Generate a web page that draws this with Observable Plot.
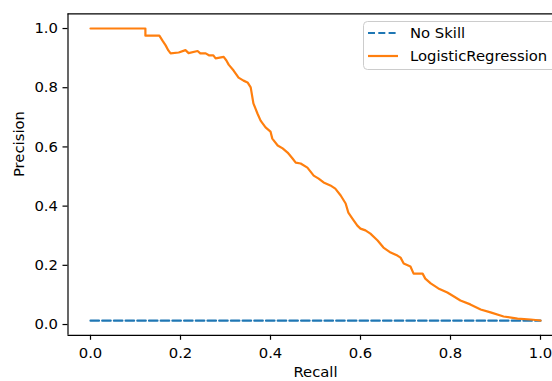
<!DOCTYPE html>
<html><head><meta charset="utf-8">
<script src="https://cdn.jsdelivr.net/npm/d3@7"></script>
<script src="https://cdn.jsdelivr.net/npm/@observablehq/plot@0.6"></script>
<style>html,body{margin:0;padding:0;background:#fff}</style>
</head><body><div id="chart"></div><script>
// Data
const seriesNames = ["No Skill", "LogisticRegression"];
const noSkillRecall = [0, 1];
const noSkillPrecision = [0.013, 0.013];
const lrRecall = [0, 0.122, 0.122, 0.153, 0.16, 0.167, 0.173, 0.178, 0.196, 0.211, 0.218, 0.238, 0.244, 0.256, 0.264, 0.273, 0.278, 0.296, 0.302, 0.307, 0.318, 0.329, 0.34, 0.349, 0.356, 0.362, 0.371, 0.378, 0.389, 0.4, 0.404, 0.416, 0.427, 0.438, 0.449, 0.456, 0.467, 0.482, 0.496, 0.507, 0.518, 0.533, 0.544, 0.556, 0.567, 0.573, 0.582, 0.593, 0.6, 0.611, 0.622, 0.638, 0.651, 0.667, 0.682, 0.689, 0.696, 0.711, 0.718, 0.738, 0.744, 0.756, 0.773, 0.793, 0.804, 0.822, 0.844, 0.867, 0.889, 0.918, 0.949, 0.978, 1.0];
const lrPrecision = [1.0, 1.0, 0.976, 0.976, 0.959, 0.943, 0.926, 0.916, 0.919, 0.927, 0.917, 0.924, 0.916, 0.916, 0.909, 0.909, 0.899, 0.904, 0.892, 0.878, 0.858, 0.834, 0.824, 0.818, 0.801, 0.747, 0.713, 0.689, 0.666, 0.652, 0.628, 0.605, 0.595, 0.581, 0.561, 0.547, 0.544, 0.53, 0.503, 0.493, 0.48, 0.47, 0.459, 0.436, 0.409, 0.378, 0.358, 0.334, 0.324, 0.318, 0.307, 0.284, 0.26, 0.243, 0.233, 0.226, 0.206, 0.196, 0.172, 0.172, 0.155, 0.139, 0.122, 0.108, 0.098, 0.081, 0.068, 0.051, 0.041, 0.027, 0.02, 0.017, 0.0135];
const xTicks = [0, 0.2, 0.4, 0.6, 0.8, 1.0];
const yTicks = [0, 0.2, 0.4, 0.6, 0.8, 1.0];
const xLabel = "Recall";
const yLabel = "Precision";

const blue = "#1f77b4", orange = "#ff7f0e";
const FS = 14.8;
const W = 552, H = 381;
const xMin = -0.05, xMax = (W - 90) / 450;
const yMin = -0.0364, yMax = 1.0494;

const lr = lrRecall.map((r, i) => ({r, p: lrPrecision[i]}));
const ns = noSkillRecall.map((r, i) => ({r, p: noSkillPrecision[i]}));

const plot = Plot.plot({
  width: W, height: H,
  marginLeft: 67.5, marginRight: 0, marginTop: 13.4, marginBottom: 46.2,
  style: {fontFamily: "DejaVu Sans", fontSize: FS + "px", color: "#000", background: "#fff"},
  x: {domain: [xMin, xMax]},
  y: {domain: [yMin, yMax]},
  marks: [
    Plot.line(ns, {x: "r", y: "p", stroke: blue, strokeWidth: 2.2, strokeDasharray: "8.5,3.2"}),
    Plot.line(lr, {x: "r", y: "p", stroke: orange, strokeWidth: 2.2}),
    Plot.ruleY([yMin, yMax], {stroke: "#000", strokeWidth: 1.2}),
    Plot.ruleX([xMin], {stroke: "#000", strokeWidth: 1.2}),
    Plot.axisX(xTicks, {tickSize: 5, tickPadding: 7.5, tickFormat: d3.format(".1f"), label: null, strokeWidth: 1.2, fontSize: FS}),
    Plot.axisY(yTicks, {tickSize: 5, tickPadding: 5, tickFormat: d3.format(".1f"), label: null, strokeWidth: 1.2, fontSize: FS}),
    Plot.text([xLabel], {x: () => (xMin + 1.05) / 2, frameAnchor: "bottom", dy: 41.5, text: d => d, fontSize: FS}),
    Plot.text([yLabel], {y: () => (yMin + yMax) / 2, frameAnchor: "left", dx: -48.5, dy: 2.5, rotate: -90, text: d => d, fontSize: FS})
  ]
});
document.getElementById("chart").appendChild(plot);

// Legend (matplotlib-style, upper right)
const svg = d3.select(plot);
const lg = svg.append("g").attr("font-family", "DejaVu Sans").attr("font-size", FS).attr("text-anchor", "start");
lg.append("rect").attr("x", 363.5).attr("y", 21.5).attr("width", 230).attr("height", 48).attr("rx", 4)
  .attr("fill", "#fff").attr("fill-opacity", 0.8).attr("stroke", "#cccccc").attr("stroke-width", 1);
const rows = [{name: seriesNames[0], color: blue, dash: "7,3.3", y: 33}, {name: seriesNames[1], color: orange, dash: null, y: 56}];
rows.forEach(d => {
  const l = lg.append("line").attr("x1", 368).attr("x2", 398).attr("y1", d.y).attr("y2", d.y)
    .attr("stroke", d.color).attr("stroke-width", 2.2);
  if (d.dash) l.attr("stroke-dasharray", d.dash);
  lg.append("text").attr("x", 410).attr("y", d.y).attr("dy", "0.35em").attr("text-anchor", "start").attr("fill", "#000").text(d.name);
});
</script></body></html>
